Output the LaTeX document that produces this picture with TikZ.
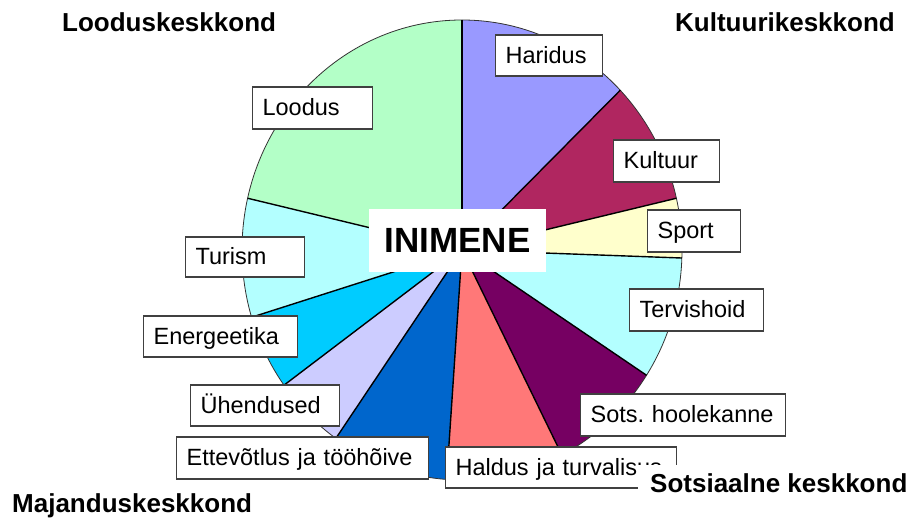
\documentclass[tikz,border=0pt]{standalone}
\usepackage{fontspec}
\setmainfont{Liberation Sans}
\usepackage{tikz}
\usetikzlibrary{positioning}
\definecolor{loodusgreen}{HTML}{B3FFC7}
\definecolor{haridusblue}{HTML}{9999FF}
\definecolor{kultuurred}{HTML}{B02660}
\definecolor{sportyellow}{HTML}{FFFFCC}
\definecolor{tervisecyan}{HTML}{B3FFFF}
\definecolor{sotspurple}{HTML}{760062}
\definecolor{haldusred}{HTML}{FF7878}
\definecolor{ettevotlusblue}{HTML}{0066CC}
\definecolor{yhendlilac}{HTML}{CCCCFF}
\definecolor{energiacyan}{HTML}{00CCFF}
\tikzset{
  pie/rim/.style={draw=black!80, line width=0.8pt},
  pie/cut/.style={draw=black, line width=1.4pt},
  pie/label/.style={draw=black!75, line width=1.2pt, fill=white, anchor=west, align=left,
    font=\fontsize{23.5}{28}\selectfont, inner xsep=10pt, inner ysep=0pt,
    minimum height=42pt, text height=18.6pt, text depth=3.4pt},
  pie/title/.style={fill=white, anchor=base west, font=\fontsize{26}{30}\selectfont\bfseries,
    inner xsep=12pt, inner ysep=9pt},
  pie/center/.style={fill=white, font=\fontsize{35}{40}\selectfont\bfseries,
    minimum width=177pt, minimum height=63pt, inner sep=0pt}
}
\begin{document}
\begin{tikzpicture}[x=1pt, y=1pt]
  \useasboundingbox (0,0) rectangle (914,521);
  \coordinate (c) at (462,271);

  % slices
  \foreach \from/\to/\col in {44/90/haridusblue, 13/44/kultuurred, -2/13/sportyellow,
      -33/-2/tervisecyan, -63/-33/sotspurple, -94/-63/haldusred, -125/-94/ettevotlusblue,
      -144/-125/yhendlilac, -163/-144/energiacyan, -193/-163/tervisecyan, 90/167/loodusgreen}
    \fill[\col] (c) -- ++(\from:220pt and 230pt)
      arc[start angle=\from, end angle=\to, x radius=220pt, y radius=230pt] -- cycle;
  \draw[pie/rim] (c) ellipse[x radius=220pt, y radius=230pt];
  \foreach \a in {90,44,13,-2,-33,-63,-94,-125,-144,-163,167}
    \draw[pie/cut] (c) -- ++(\a:220pt and 230pt);

  % labels
  \node[pie/label, text width=100pt] (loodus) at (252,413) {Loodus};
  \node[pie/label, text width=87pt, minimum height=41pt] (haridus) at (495,465.5) {Haridus};
  \node[pie/label, text width=86pt] (kultuur) at (613,360) {Kultuur};
  \node[pie/label, text width=73pt] (sport) at (647,290) {Sport};
  \node[pie/label, text width=114pt] (tervis) at (629,211) {Tervishoid};
  \node[pie/label, text width=185pt] (sots) at (580,106) {Sots.\ hoolekanne};
  \node[pie/label, text width=211pt, minimum height=41pt] (haldus) at (445,53.5) {Haldus ja turvalisus};
  \node[pie/label, text width=232pt] (ettevotlus) at (176,63) {Ettevõtlus ja tööhõive};
  \node[pie/label, text width=129pt, minimum height=41pt] (yhendused) at (190,115.5) {Ühendused};
  \node[pie/label, text width=134pt, minimum height=41pt] (energia) at (143,184.5) {Energeetika};
  \node[pie/label, text width=99pt, minimum height=40pt] (turism) at (185,264) {Turism};

  \node[pie/center] (inimene) at (457.5,280.5) {INIMENE};

  % corner titles
  \node[pie/title] (looduskk) at (50,489) {Looduskeskkond};
  \node[pie/title] (kultuurikk) at (663,489) {Kultuurikeskkond};
  \node[pie/title] (majanduskk) at (0,8) {Majanduskeskkond};
  \node[pie/title] (sotsiaalkk) at (638,28) {Sotsiaalne keskkond};
\end{tikzpicture}
\end{document}
